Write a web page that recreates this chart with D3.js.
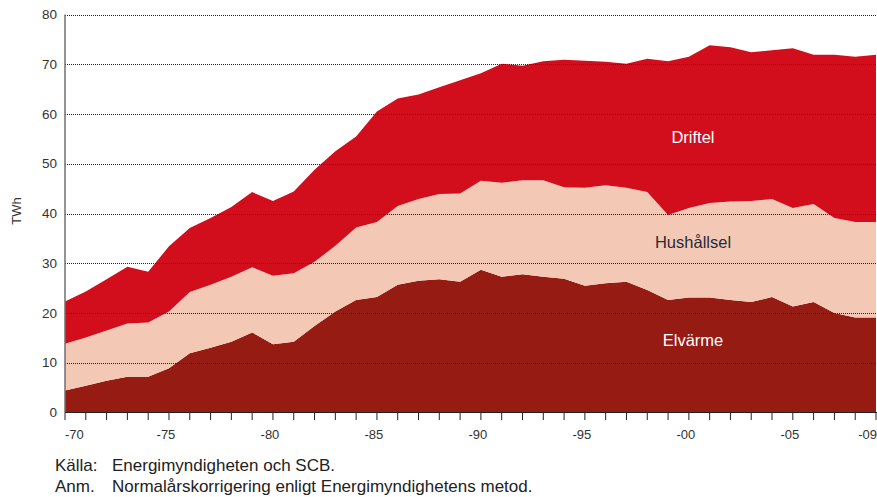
<!DOCTYPE html>
<head>
<meta charset="utf-8">
<style>
  body { margin: 0; background: #fff; }
  text { font-family: "Liberation Sans", Arial, sans-serif; }
</style>
</head>
<body>
  <svg width="877" height="497"></svg>

  <script src="https://d3js.org/d3.v7.min.js"></script>
  <script>
  // Elanvändning i bostäder och service, TWh, 1970-2009
  const years = d3.range(1970, 2010);
  const elvarme = [4.4, 5.4, 6.4, 7.2, 7.2, 8.9, 11.9, 13.0, 14.2, 16.1,
    13.7, 14.2, 17.4, 20.3, 22.6, 23.2, 25.7, 26.5, 26.8, 26.3,
    28.7, 27.3, 27.8, 27.3, 26.9, 25.5, 26.0, 26.3, 24.6, 22.6,
    23.1, 23.1, 22.6, 22.2, 23.2, 21.3, 22.2, 20.0, 19.1, 19.1];
  const hushallsel = [9.4, 9.7, 10.1, 10.7, 10.9, 11.4, 12.3, 12.7, 13.1, 13.1,
    13.8, 13.8, 12.9, 13.2, 14.6, 15.1, 15.8, 16.4, 17.1, 17.7,
    17.9, 18.9, 18.9, 19.4, 18.4, 19.7, 19.7, 18.9, 19.7, 17.1,
    18.0, 19.0, 19.8, 20.3, 19.7, 19.8, 19.7, 19.1, 19.2, 19.2];
  const driftel = [8.5, 9.2, 10.3, 11.4, 10.2, 13.1, 12.9, 13.4, 14.0, 15.1,
    15.0, 16.4, 18.5, 19.0, 18.3, 22.2, 21.6, 21.0, 21.5, 22.8,
    21.6, 23.9, 23.0, 23.9, 25.6, 25.5, 24.8, 24.9, 26.8, 30.9,
    30.4, 31.7, 31.0, 29.9, 29.9, 32.1, 30.0, 32.8, 33.2, 33.6];
  const keys = ['Elvärme', 'Hushållsel', 'Driftel'];
  const colors = ['#951b13', '#f3c9b6', '#d20d1c'];
  const yTicks = [0, 10, 20, 30, 40, 50, 60, 70, 80];
  const xLabelYears = [1970, 1975, 1980, 1985, 1990, 1995, 2000, 2005, 2009];
  const notes = [['Källa:', 'Energimyndigheten och SCB.'],
    ['Anm.', 'Normalårskorrigering enligt Energimyndighetens metod.']];

  const rows = years.map((yr, i) => ({
    year: yr, 'Elvärme': elvarme[i], 'Hushållsel': hushallsel[i], 'Driftel': driftel[i]
  }));

  const svg = d3.select('svg');
  const x = d3.scaleLinear().domain([1970, 2009]).range([65, 876]);
  const y = d3.scaleLinear().domain([0, 80]).range([412.5, 14.5]);

  const series = d3.stack().keys(keys)(rows);
  const area = d3.area()
    .x(d => x(d.data.year))
    .y0(d => y(d[0]))
    .y1(d => y(d[1]));

  svg.selectAll('path.layer')
    .data(series)
    .enter()
    .append('path')
    .attr('class', 'layer')
    .attr('fill', (d, i) => colors[i])
    .attr('d', area);

  // dotted gridlines on top of the areas
  svg.selectAll('line.grid')
    .data(yTicks.filter(v => v > 0))
    .enter()
    .append('line')
    .attr('x1', 65).attr('x2', 877)
    .attr('y1', d => Math.round(y(d)) + 0.5)
    .attr('y2', d => Math.round(y(d)) + 0.5)
    .attr('stroke', '#222')
    .attr('stroke-width', 1)
    .attr('stroke-dasharray', '1,1');

  // y axis
  svg.append('line')
    .attr('x1', 65).attr('x2', 65)
    .attr('y1', y(80)).attr('y2', y(0))
    .attr('stroke', '#6f6f6f').attr('stroke-width', 1.5);
  svg.selectAll('text.ytick')
    .data(yTicks)
    .enter()
    .append('text')
    .attr('x', 57)
    .attr('y', d => y(d) + 4.5)
    .attr('text-anchor', 'end')
    .attr('font-size', 13.5)
    .attr('fill', '#333')
    .text(d => d);
  svg.append('text')
    .attr('transform', 'translate(21,' + y(40.5) + ') rotate(-90)')
    .attr('text-anchor', 'middle')
    .attr('font-size', 13)
    .attr('fill', '#333')
    .text('TWh');

  // x axis
  svg.append('line')
    .attr('x1', 65).attr('x2', 877)
    .attr('y1', 412.5).attr('y2', 412.5)
    .attr('stroke', '#222').attr('stroke-width', 1.2);
  svg.selectAll('line.xtick')
    .data(years)
    .enter()
    .append('line')
    .attr('x1', d => x(d)).attr('x2', d => x(d))
    .attr('y1', 412.5).attr('y2', 420)
    .attr('stroke', '#222').attr('stroke-width', 1);
  const lastLabel = xLabelYears.length - 1;
  svg.selectAll('text.xtick')
    .data(xLabelYears)
    .enter()
    .append('text')
    .attr('x', (d, i) => i === 0 ? x(d) : i === lastLabel ? 877 : x(d) - 3)
    .attr('y', 439)
    .attr('text-anchor', (d, i) => i === 0 ? 'start' : i === lastLabel ? 'end' : 'middle')
    .attr('font-size', 13)
    .attr('fill', '#333')
    .text(d => '-' + String(d % 100).padStart(2, '0'));

  // series labels
  const labelPos = [[2000.2, 13.4, '#fff'], [2000.2, 33.0, '#2a2a3a'], [2000.2, 54.2, '#fff']];
  svg.selectAll('text.serie')
    .data(keys)
    .enter()
    .append('text')
    .attr('x', (d, i) => x(labelPos[i][0]))
    .attr('y', (d, i) => y(labelPos[i][1]))
    .attr('text-anchor', 'middle')
    .attr('font-size', 16.5)
    .attr('fill', (d, i) => labelPos[i][2])
    .text(d => d);

  // footnotes
  const note = svg.selectAll('g.note')
    .data(notes)
    .enter()
    .append('g')
    .attr('transform', (d, i) => 'translate(0,' + (471 + i * 21) + ')');
  note.append('text').attr('x', 55).attr('font-size', 17).attr('fill', '#222').text(d => d[0]);
  note.append('text').attr('x', 112).attr('font-size', 17).attr('fill', '#222').text(d => d[1]);
  </script>
</body>
</html>
